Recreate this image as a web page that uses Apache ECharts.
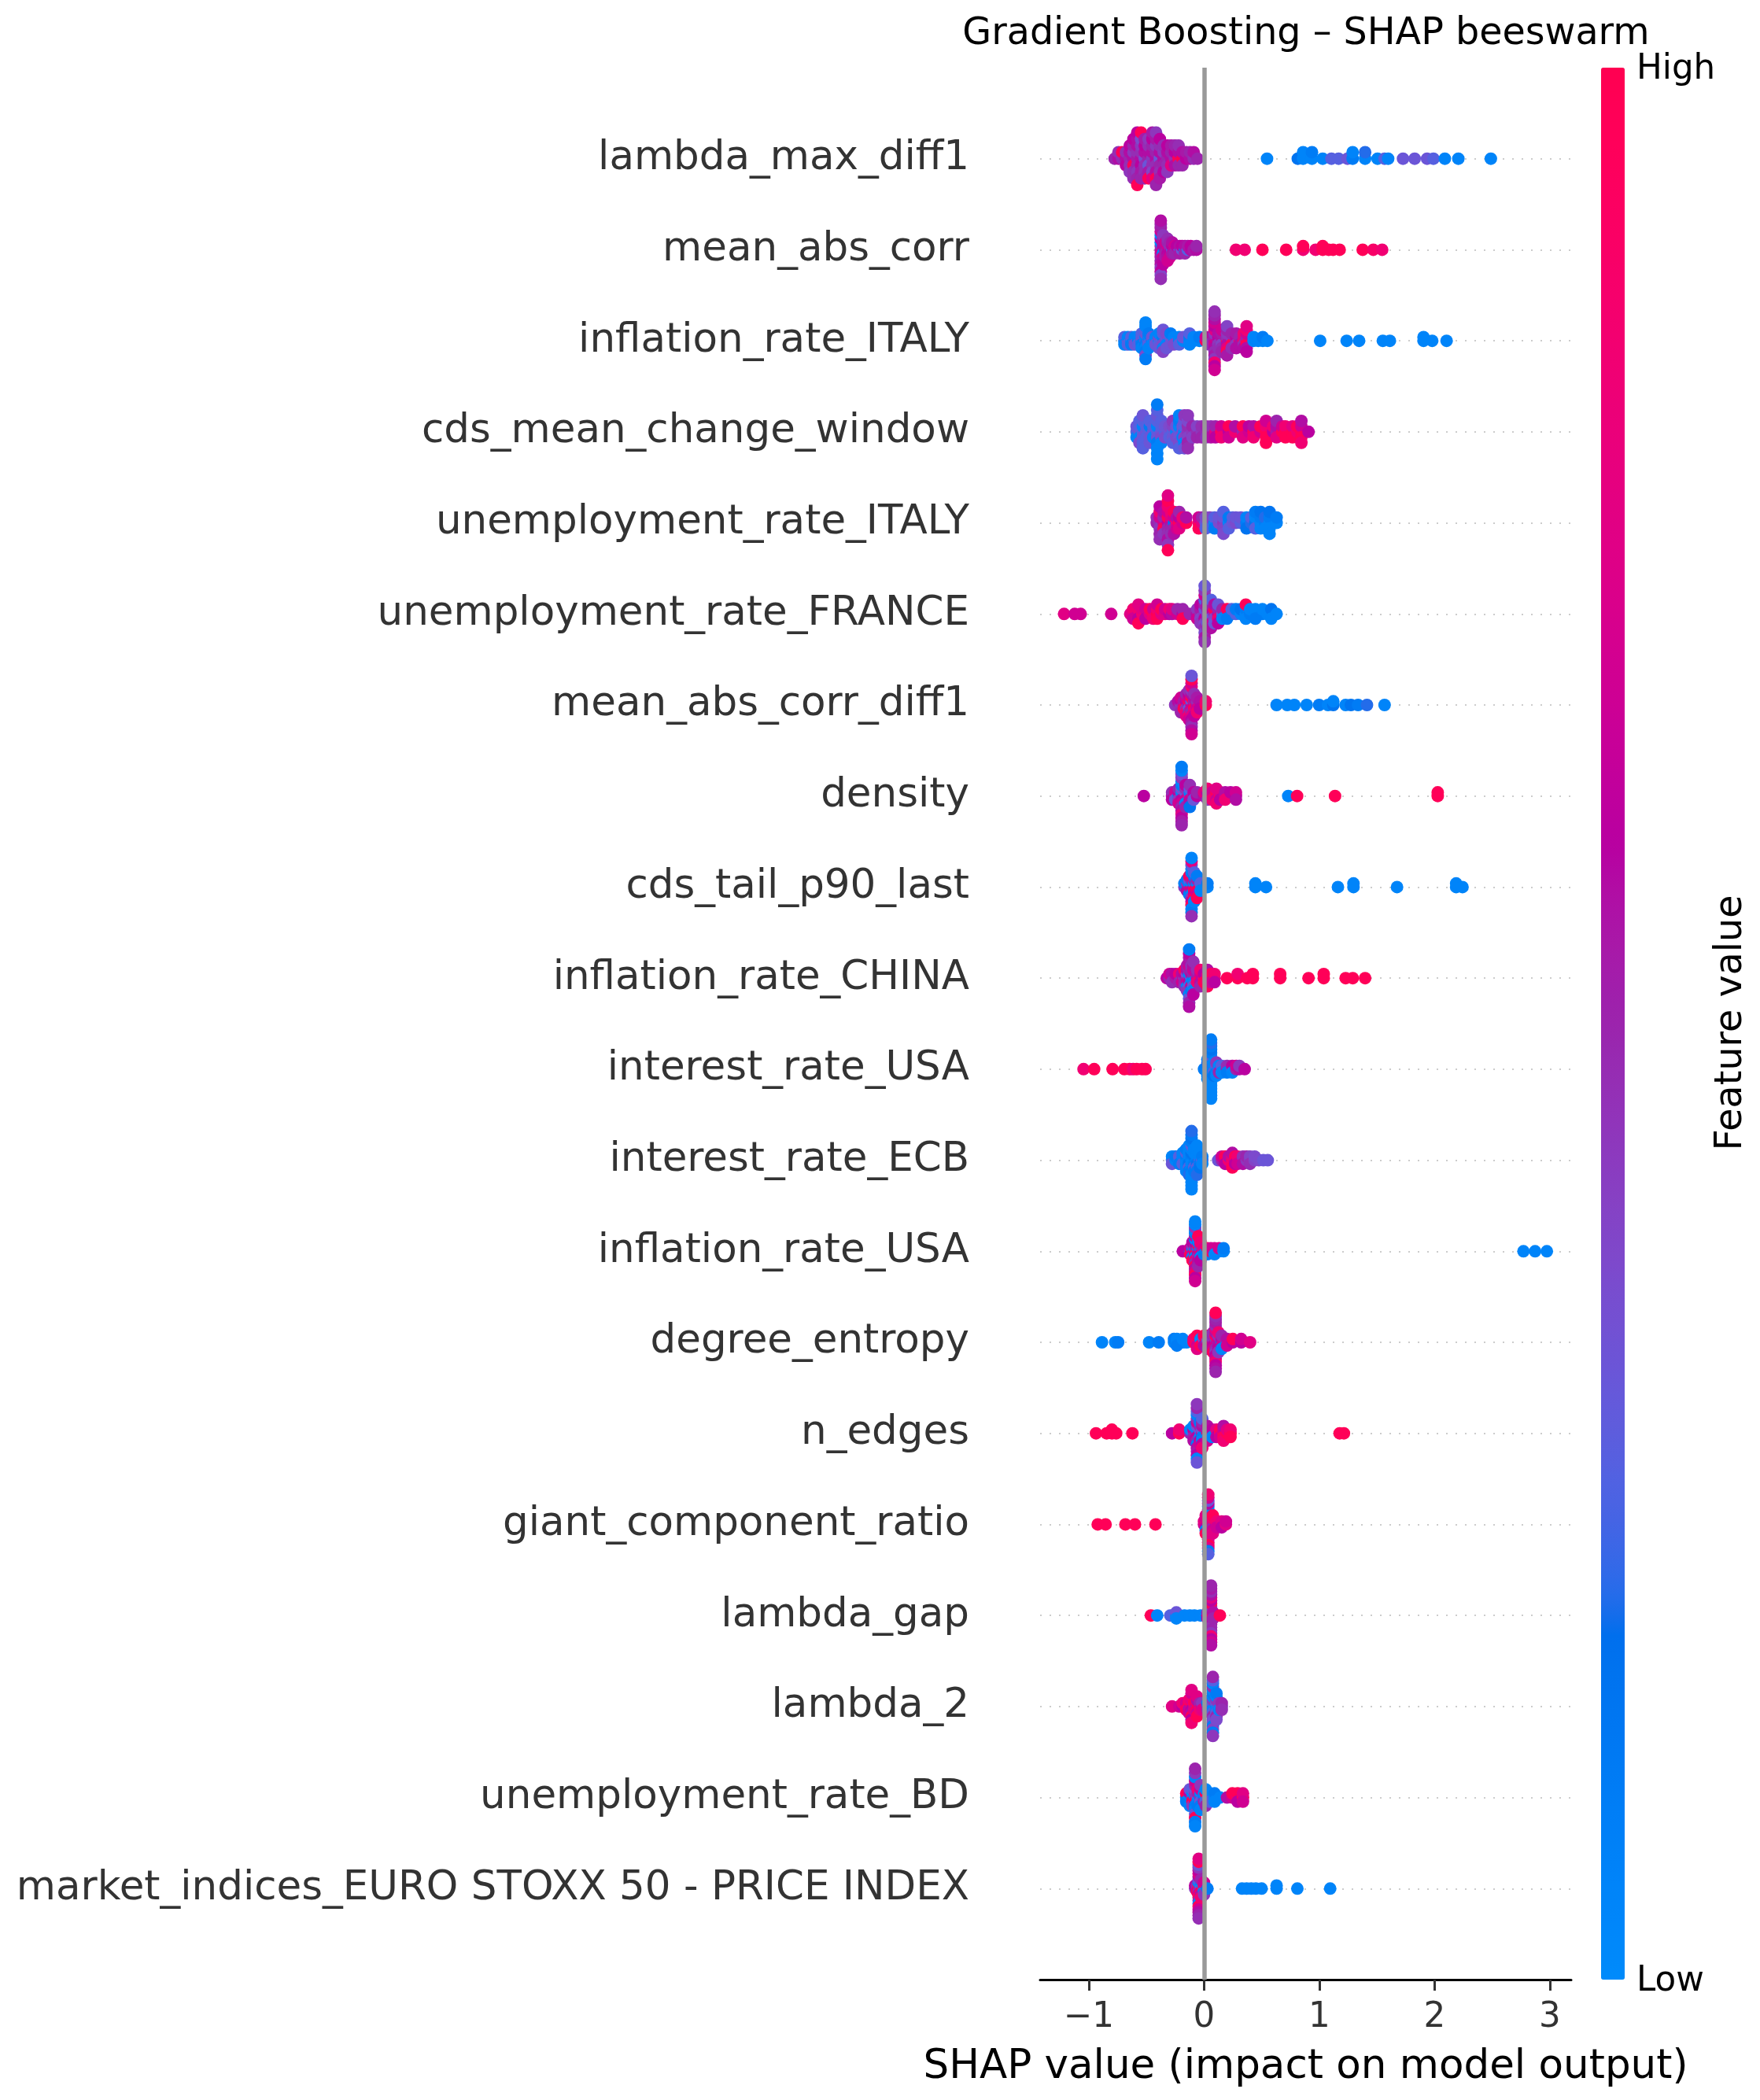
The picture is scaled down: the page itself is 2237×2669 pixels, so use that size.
<!DOCTYPE html>
<html><head><meta charset="utf-8">
<script src="https://cdn.jsdelivr.net/npm/echarts@6/dist/echarts.min.js"></script>
<style>html,body{margin:0;padding:0;background:#fff}#c{width:2237px;height:2669px}</style>
</head><body><div id="c"></div>
<script>
// Feature names, top to bottom
const features = ['lambda_max_diff1','mean_abs_corr','inflation_rate_ITALY','cds_mean_change_window','unemployment_rate_ITALY','unemployment_rate_FRANCE','mean_abs_corr_diff1','density','cds_tail_p90_last','inflation_rate_CHINA','interest_rate_USA','interest_rate_ECB','inflation_rate_USA','degree_entropy','n_edges','giant_component_ratio','lambda_gap','lambda_2','unemployment_rate_BD','market_indices_EURO STOXX 50 - PRICE INDEX'];
const xTicks = [-1, 0, 1, 2, 3];
const colorbarLabels = ['High', 'Low'];

// Each entry: [SHAP value, [feature values (0 = low, 1 = high) of the points stacked at that value]]
const lambda_max_diff1 = [[-0.775,[.5]],[-0.742,[.57,.47]],[-0.71,[.47,.97]],[-0.677,[.57,.47,.6]],[-0.644,[.5,.57,.47,.6,.44]],[-0.612,[.57,.44,.97,.5,.47,.6,.47]],[-0.579,[.54,.47,.5,.57,.44,.57,.5,.6,.97]],[-0.546,[.57,.47,.6,.44,.54,.37,.5,.97]],[-0.514,[.37,.57,.47,.6,.47,.54,.5]],[-0.481,[.5,.57,.32,.47,.54,.44,.97]],[-0.448,[.44,.57,.47,.5,.4,.6,.76,.54]],[-0.416,[.57,.5,.47,.44,.57,.54,.97,.44,.5]],[-0.383,[.32,.57,.5,.47,.47,.6,.54]],[-0.35,[.57,.44,.5,.47,.6]],[-0.318,[.5,.57,.47,.6,.44]],[-0.285,[.57,.5,.76,.54]],[-0.252,[.47,.6,.57,.5]],[-0.22,[.97,.57,.5,.47]],[-0.187,[1,.57,.5]],[-0.154,[.6,.54]],[-0.121,[.57,.5]],[-0.089,[.47,.57]],[-0.056,[.5]],
 [0.547,[.05]],[0.814,[.15]],[0.86,[.05,.05]],[0.937,[.05,.1]],[1.03,[.05]],[1.106,[.27]],[1.168,[.27]],[1.245,[.32]],[1.29,[.1,.05]],[1.398,[.05,.2]],[1.506,[.05]],[1.567,[.27]],[1.598,[.05]],[1.727,[.32]],[1.828,[.32]],[1.936,[.32]],[1.991,[.27]],[2.09,[.05]],[2.207,[.05]],[2.489,[.05]]];
const mean_abs_corr = [[-0.375,[.57,.47,.68,.05,.54,.6,.5,.05,.57,.68,.44,.54,.6,.5,.4,.57,.47]],[-0.355,[.5,.6,.05,.57,.68,.54,.57,.44,.6]],[-0.335,[.6,.57,.5,.68,.54]],[-0.315,[.54,.68,.6,.5,.57,.47,.68]],[-0.295,[.57,.47,.6,.5,.68]],[-0.275,[.27,.6,.54,.57]],[-0.255,[.57,.68,.5]],[-0.235,[.5,.6]],[-0.21,[.27,.57,.54]],[-0.19,[.32,.6]],[-0.165,[.05,.57,.5]],[-0.14,[.27,.54]],[-0.115,[.57,.6]],[-0.09,[.54]],[-0.065,[.57,.5]],
 [0.277,[.85]],[0.353,[.85]],[0.507,[.97]],[0.713,[.97]],[0.86,[.85,.97]],[0.968,[.85]],[1.03,[.97,.97]],[1.082,[.97]],[1.12,[.97]],[1.177,[.97]],[1.377,[.97]],[1.469,[.9]],[1.546,[.85]]];
const inflation_rate_ITALY = [[-0.69,[.1,.27,.05]],[-0.66,[.32,.05,.27]],[-0.63,[.05,.27,.1]],[-0.6,[.27,.05,.32]],[-0.57,[.1,.05,.27]],[-0.54,[.05,.32,.1,.27,.05]],[-0.507,[.27,.05,.1,.32,.05,.27,.1,.05,.37,.05,.1]],[-0.48,[.32,.05,.27,.1,.05]],[-0.45,[.1,.32,.05]],[-0.42,[.27,.05,.32]],[-0.39,[.05,.37,.27,.05,.32]],[-0.355,[.32,.1,.37,.27,.05,.32,.4]],[-0.325,[.27,.32,.05,.37,.32]],[-0.29,[.05,.27,.32,.1]],[-0.26,[.32,.05,.37]],[-0.215,[.1,.05,.27]],[-0.18,[.05,.32]],[-0.125,[.05,.1,.05,.27]],[-0.09,[.05,.05]],[-0.04,[.05,.1]],
 [0.015,[.97,.68]],[0.045,[.97,.57,.47]],[0.092,[.6,.5,.68,.44,.57,.76,.47,.6,.54,.68,.44,.57,.85,.5,.6,.47,.68]],[0.125,[.5,.6,.44,.57,.47]],[0.155,[.44,.57,.4,.54,.47,.68,.5]],[0.2,[.97,.47,.57,.44,.76,.5,.97,.4,.54]],[0.24,[.57,.44,.97,.5,.47]],[0.28,[.5,.6,.44,.54,.57]],[0.31,[.85,.5,.57]],[0.345,[.97,.76,.47,.85,.57]],[0.37,[.97,.5,.97,.68,.57,.85,.6,.76]],[0.43,[.05,.05]],[0.47,[.05]],[0.51,[.05,.1]],[0.55,[.05]],
 [1.008,[.05]],[1.238,[.05]],[1.346,[.05]],[1.552,[.05]],[1.613,[.05]],[1.905,[.05,.05]],[1.98,[.05]],[2.105,[.05]]];
const cds_mean_change_window = [[-0.585,[.27,.32,.05]],[-0.56,[.32,.27,.05,.27,.37]],[-0.53,[.27,.05,.32,.27,.27,.32,.27]],[-0.5,[.32,.27,.27]],[-0.47,[.27,.1,.32,.27,.32]],[-0.44,[.32,.27,.05]],[-0.406,[.27,.05,.32,.27,.1,.32,.05,.27,.05,.1,.05]],[-0.37,[.32,.27,.37,.27,.05]],[-0.338,[.27,.32,.37]],[-0.3,[.32,.37,.27]],[-0.27,[.27,.4,.32,.44,.27]],[-0.24,[.05,.32,.37]],[-0.215,[.27,.05,.32,.1,.37,.05,.27]],[-0.185,[.37,.32,.05]],[-0.17,[.05,.27,.4,.32,.05,.44,.32]],[-0.14,[.44,.47,.4,.37,.5,.44,.47]],[-0.1,[.44,.5,.4]],[-0.06,[.47,.4,.5]],[-0.02,[.44,.47,.5]],
 [0.02,[.47,.5,.44]],[0.06,[.54,.47,.57]],[0.1,[.76,.5,.6]],[0.15,[.97,.68,.85]],[0.215,[.6,.97,.68]],[0.27,[.85,.57]],[0.338,[.5,.97,.76]],[0.39,[.68,.6]],[0.43,[.97,.57,.85]],[0.49,[.68,.97]],[0.538,[.97,.85,.97,.68,.97]],[0.6,[.6,.85]],[0.63,[.54,.57,.76,.5]],[0.68,[.97,.68]],[0.707,[.97,.85,.97]],[0.768,[.97,.76,.97]],[0.81,[.85,.97]],[0.845,[.97,.68,.97,.57,.85]],[0.907,[.6]]];
const unemployment_rate_ITALY = [[-0.41,[.5,.47]],[-0.384,[.47,.68,.44,.85,.5,.6,.47]],[-0.35,[.68,.5,.97,.57,.44]],[-0.313,[.6,.97,.5,.68,.47,.85,.57,.97,.44,.76,.97]],[-0.285,[.57,.76,.5,.85,.47]],[-0.26,[.15,.68,.5,.97,.57]],[-0.235,[.85,.57,.68]],[-0.215,[.97,.6,.76,.5]],[-0.185,[.68,.85]],[-0.154,[.97,.57]],[-0.046,[.85,.68,.97]],[-0.015,[.76,.5]],
 [0.015,[.32,.37,.27]],[0.05,[.27,.4]],[0.092,[.05,.27,.1]],[0.13,[.37,.32]],[0.169,[.44,.32,.4,.27,.37]],[0.215,[.05,.1,.27]],[0.25,[.32,.27]],[0.277,[.37,.32]],[0.32,[.27,.32]],[0.369,[.1,.05,.15]],[0.41,[.2,.27]],[0.446,[.15,.05,.27,.1]],[0.492,[.05,.1,.05,.15]],[0.53,[.1,.2,.05]],[0.569,[.05,.1,.05,.15,.05]],[0.63,[.05,.1]]];
const unemployment_rate_FRANCE = [[-1.214,[.76]],[-1.122,[.68]],[-1.07,[.68]],[-0.805,[.68]],[-0.64,[.76]],[-0.615,[.76,.85,.68]],[-0.569,[.68,.85,.6,.76,.97]],[-0.535,[.85,.76]],[-0.507,[.85,.68,.6]],[-0.47,[.76,.97]],[-0.44,[.97,.68,.85]],[-0.406,[1,.85,.97,.68]],[-0.37,[.76,.97]],[-0.338,[.76,.68]],[-0.3,[.6,.85]],[-0.277,[.57,.76]],[-0.23,[.68,.5]],[-0.184,[.6,.5,.97]],[-0.123,[.5]],[-0.06,[.57,.44,.68]],[-0.03,[.47,.54,.4,.6,.44]],
 [0.006,[.44,.32,.6,.5,.4,.27,.47,.68,.37,.44,.54,.32,.47]],[0.03,[.4,.5,.44,.57,.32,.54,.47]],[0.061,[.44,.6,.32,.5,.68,.27,.57]],[0.09,[.5,.97,.4,.57,.32]],[0.123,[.57,.5,.85,.32,.6]],[0.16,[.27,.5,.05]],[0.2,[.05,.97,.1]],[0.24,[.1,.27]],[0.277,[.27,.1]],[0.32,[.05,.15]],[0.363,[.05,.1,.05,.97]],[0.4,[.1,.05]],[0.446,[.05,.05,.1]],[0.507,[.1,.05]],[0.55,[.05]],[0.584,[.05,.15,.05]],[0.63,[.05]]];
const mean_abs_corr_diff1 = [[-0.25,[.44]],[-0.225,[.47,.57]],[-0.2,[.44,.6,.47,.68,.5]],[-0.175,[.68,.54,.97]],[-0.154,[.97,.6,.47,.68,.85,.5,.76]],[-0.13,[.57,.97,.32,.68,.5,.6,.85,.47,.68]],[-0.108,[.6,.32,.68,.97,.5,.57,.76,.44,.6,.85,.54,.68,.47,.97,.57,.32,.68]],[-0.085,[.68,.5,.97,.57,.76,.47,.6]],[-0.06,[.57,.47,.68,.54,.85]],[-0.035,[.76,.57,.6]],[0.015,[.97,.85]],
 [0.63,[.05]],[0.722,[.05]],[0.784,[.05]],[0.891,[.05]],[0.999,[.1]],[1.076,[.05]],[1.122,[.15,.05]],[1.229,[.05]],[1.275,[.15]],[1.337,[.1]],[1.414,[.2]],[1.567,[.05]]];
const density = [[-0.522,[.6]],[-0.277,[.57,.47,.6]],[-0.25,[.5,.68,.32]],[-0.22,[.05,.6,.44,.5,.68]],[-0.194,[.47,.05,.6,.32,.68,.1,.5,.05,.57,.44,.76,.37,.6,.05,.54,.1,.5]],[-0.16,[.57,.32,.68,.47,.05,.6,.5]],[-0.123,[.44,.05,.68,.27,.57,.47,.15]],[-0.09,[.5,.6,.32]],[-0.06,[.6,.5]],
 [0,[.57,.76]],[0.03,[.76,.57,.44,.85]],[0.07,[.97,.68,.85]],[0.108,[.85,.97,.68,.76,.85]],[0.14,[.97,.76,.6]],[0.184,[.68,.57,.85]],[0.23,[.85,.6]],[0.277,[.6,.68,.57]],[0.731,[.05]],[0.808,[.97]],[1.137,[.97]],[2.028,[.97,.97]]];
const cds_tail_p90_last = [[-0.17,[.44,.1]],[-0.148,[.05,.44,.57,.1]],[-0.128,[.5,.05,.68,.32,.1,.97]],[-0.108,[.97,.05,.68,.5,.05,.85,.44,.1,.6,.05,.97,.27,.05,.76,.1,.05,.47]],[-0.085,[.85,.05,.97,.5,.68,.1,.97,.27,.05]],[-0.06,[.85,.05,.97,.5,.68,.1,.97]],[-0.03,[.97,.27,.05]],[0.03,[.05,.1]],
 [0.446,[.05,.05]],[0.538,[.05]],[1.162,[.05]],[1.297,[.05,.05]],[1.675,[.05]],[2.188,[.05,.05]],[2.243,[.05]]];
const inflation_rate_CHINA = [[-0.323,[.6]],[-0.3,[.5,.68]],[-0.277,[.68,.57,.47]],[-0.245,[.54,.6]],[-0.215,[.6,.85,.5]],[-0.19,[.47,.57,.68]],[-0.169,[.44,.6,.5,.97,.47]],[-0.148,[.5,.32,.68,.57,.05,.54,.44]],[-0.129,[.47,.05,.6,.5,.27,.68,.44,.57,.05,.54,.32,.6,.5,.1,.57]],[-0.11,[.27,.57,.05,.5,.68,.47,.1]],[-0.092,[.1,.5,.05,.68,.32,.57,.05,.47,.6]],[-0.06,[.68,.54,.85,.47]],[-0.03,[.97,.68,.57,.85,.5]],
 [0,[.85,.6,.97]],[0.03,[.97,.76,.85,.57,.97]],[0.06,[.85,.97,.68]],[0.092,[.76,.85,.6]],[0.2,[.97]],[0.292,[.97,.85]],[0.375,[.97]],[0.424,[.97,.97]],[0.661,[.97,.97]],[0.907,[.97]],[1.039,[.97,.97]],[1.229,[.97]],[1.291,[.97]],[1.398,[.97]]];
const interest_rate_USA = [[-1.045,[.85]],[-0.953,[.97]],[-0.793,[.97]],[-0.691,[.97]],[-0.645,[.97]],[-0.615,[.85]],[-0.584,[.97]],[-0.538,[.97]],[-0.507,[.97]],
 [0,[.1]],[0.03,[.05,.1,.05,.2,.05,.1,.05]],[0.061,[.05,.1,.05,.2,.05,.05,.1,.27,.05,.1,.05,.15,.05,.1,.05,.2,.05,.1,.05]],[0.085,[.1,.05,.27,.05,.15]],[0.108,[.05,.27,.1,.44,.05]],[0.13,[.32,.05,.5]],[0.154,[.57,.27,.05]],[0.2,[.76,.47,.1]],[0.246,[.32,.6,.05]],[0.28,[.5,.68]],[0.307,[.57,.44]],[0.353,[.6]]];
const interest_rate_ECB = [[-0.277,[.27,.05,.32]],[-0.246,[.05,.1]],[-0.215,[.05,.27,.1]],[-0.185,[.1,.05,.27,.05]],[-0.154,[.05,.1,.05,.27,.05,.1,.05]],[-0.13,[.1,.05,.15,.05,.27,.05,.1,.05,.2]],[-0.108,[.05,.1,.05,.15,.05,.05,.1,.27,.05,.1,.05,.15,.05,.1,.05,.2,.05]],[-0.085,[.05,.15,.1,.05,.27,.05,.1]],[-0.06,[.1,.05,.15,.05,.27,.05,.1,.05,.2]],[-0.035,[.27,.05,.1,.05,.15]],[-0.015,[.27,.1,.05]],
 [0.123,[.32]],[0.155,[.5,.68]],[0.184,[.68,.97,.6]],[0.215,[.85,.57]],[0.246,[.97,.76,.85,.57,.97]],[0.27,[.68,.97,.6]],[0.292,[.6,.85,.68]],[0.338,[.68,.47,.57]],[0.37,[.44,.5]],[0.4,[.44,.4,.47]],[0.44,[.4,.37]],[0.476,[.37]],[0.515,[.32]],[0.553,[.32]]];
const inflation_rate_USA = [[-0.184,[.6]],[-0.12,[.05,.68,.97]],[-0.1,[.97,.05,.68,.44,.05,.6,.97]],[-0.077,[.68,.05,.97,.5,.05,.6,.85,.05,.47,.68,.97,.1,.57,.05,.76,.44,.97,.05,.6,.05,.68]],[-0.05,[.85,.05,.6,.97,.47,.1,.68,.05,.57,.97,.5]],[-0.03,[.97,.05,.68,.5,.05,.85,.6]],
 [0,[.05,.76,.1]],[0.03,[.05,.97,.1]],[0.06,[.97,.68]],[0.092,[.97,.68,.05]],[0.13,[.05,.68]],[0.17,[.05,.1]],[2.772,[.05]],[2.873,[.05]],[2.975,[.05]]];
const degree_entropy = [[-0.885,[.05]],[-0.77,[.05]],[-0.745,[.1]],[-0.476,[.05]],[-0.393,[.1]],[-0.26,[.05,.1]],[-0.235,[.05,.05,.1]],[-0.184,[.1,.05]],[-0.15,[.05]],[-0.09,[.97,.85]],[-0.06,[.97,.85,.68,.97,.76]],[-0.03,[.68,.05,.97]],
 [0,[.85,.32,.57,.97]],[0.03,[.44,.32,.68,.97,.5]],[0.06,[.6,.5,.97,.44,.68]],[0.08,[.57,.44,.6,.5,.68,.47,.97]],[0.101,[.6,.47,.68,.97,.5,.57,.44,.76,.6,.47,.68,.54,.85,.5,.6,.47,.57,.97,.5]],[0.125,[.5,.68,.57,.47,.6,.85,.44]],[0.154,[.1,.6,.68,.5,.05]],[0.2,[.05,.57,.68]],[0.25,[.6,.97]],[0.323,[.6,.68]],[0.4,[.76]]];
const n_edges = [[-0.937,[.97]],[-0.845,[.97]],[-0.799,[.97,.97]],[-0.762,[.97]],[-0.621,[.97]],[-0.277,[.6]],[-0.215,[.97,.85]],[-0.12,[.5,.05]],[-0.09,[.32,.6,.5,.05,.57]],[-0.061,[.5,.05,.6,.32,.5,.68,.1,.47,.57,.05,.54,.27,.6,.5,.05,.44,.32]],[-0.035,[.57,.32,.05,.5,.6,.1,.68]],[-0.015,[.68,.32,.1,.57,.05,.5,.6,.27,.85]],
 [0.03,[.97,.5,.05,.57,.68]],[0.07,[.85,.6,.05]],[0.108,[.05,.76,.6]],[0.14,[.85,.97,.68]],[0.17,[.97,.68,.97,.57,.85]],[0.2,[.97,.76]],[0.23,[.97,.85,.97]],[1.177,[.97]],[1.214,[.97]]];
const giant_component_ratio = [[-0.922,[.97]],[-0.854,[.97]],[-0.682,[.97]],[-0.599,[.97]],[-0.421,[.97]],
 [0,[.68,.76]],[0.015,[.76,.85,.6,.68,.05,.76,.97]],[0.037,[.76,.97,.05,.68,.6,.85,.32,.76,.97,.6,.68,.05,.76,.6,.97,.32,.76,.68,.1,.85,.27]],[0.055,[.68,.76,.85,.6,.97]],[0.077,[.68,.76,.5,.85,.68,.97,.76]],[0.11,[.6,.85,.68]],[0.154,[.68,.76,.6]],[0.19,[.76,.68]]];
const lambda_gap = [[-0.461,[.97]],[-0.406,[.05]],[-0.292,[.27]],[-0.24,[.05,.32,.05]],[-0.169,[.05]],[-0.123,[.05]],[-0.083,[.05]],[-0.03,[.05]],
 [0.03,[.97,.5,.6]],[0.045,[.47,.68,.57,.97,.5]],[0.061,[.47,.6,.85,.5,.68,.44,.57,.97,.47,.6,.5,.76,.44,.57,.85,.47,.6,.54,.68,.5,.57]],[0.08,[.85,.57,.5]],[0.138,[.97]]];
const lambda_2 = [[-0.277,[.76]],[-0.215,[.68]],[-0.185,[.6,.85]],[-0.154,[.85,.68,.97]],[-0.13,[.76,.97,.57,.85,.68]],[-0.108,[.68,.97,.6,.76,.57,.85,.97,.68,.6,.76,.85]],[-0.085,[.57,.97,.76]],[-0.06,[.5,.85,.97,.57,.68,.76,.97]],[-0.035,[.68,.5,.85]],[-0.015,[.57,.44,.76]],
 [0.03,[.44,.1,.5]],[0.055,[.32,.05,.44,.1,.5]],[0.077,[.1,.32,.05,.44,.27,.05,.5,.1,.37,.05,.32,.47,.1,.05,.4,.27,.1,.5,.44]],[0.108,[.1,.32,.05,.44,.27,.05,.5,.1,.37]],[0.13,[.32,.44,.05]],[0.154,[.4,.5,.47]]];
const unemployment_rate_BD = [[-0.154,[.05,.97,.1]],[-0.123,[.05,.6,.1,.32,.05]],[-0.1,[.5,.05,.97,.27,.44]],[-0.077,[.05,.44,.97,.32,.1,.5,.05,.68,.32,.05,.97,.44,.1,.5,.05]],[-0.055,[.32,.5,.05,.85,.1]],[-0.03,[.5,.05,.32,.68,.1,.44,.05]],
 [0,[.1,.05,.5]],[0.015,[.05,.97,.27,.05,.5]],[0.05,[.1,.05,.27]],[0.092,[.05,.1,.05]],[0.138,[.05]],[0.2,[.57]],[0.246,[.68,.97]],[0.292,[.85,.97,.6]],[0.338,[.97,.76,.68]]];
const market_indices_EURO_STOXX_50 = [[-0.077,[.44,.6]],[-0.06,[.68,.47,.97]],[-0.046,[.6,.97,.47,.05,.68,.32,.97,.57,.5,.76,.05,.6,.97,.44,.68,.32,.57,.97,.5,.76,.47]],[-0.025,[.68,.32,.97,.05,.57,.5,.85]],[0,[.32,.97,.05,.68,.44]],[0.03,[.1]],
 [0.33,[.05]],[0.37,[.05]],[0.41,[.05]],[0.45,[.05]],[0.5,[.05]],[0.63,[.05,.05]],[0.81,[.05]],[1.095,[.05]]];

const rows = [lambda_max_diff1, mean_abs_corr, inflation_rate_ITALY, cds_mean_change_window, unemployment_rate_ITALY, unemployment_rate_FRANCE, mean_abs_corr_diff1, density, cds_tail_p90_last, inflation_rate_CHINA, interest_rate_USA, interest_rate_ECB, inflation_rate_USA, degree_entropy, n_edges, giant_component_ratio, lambda_gap, lambda_2, unemployment_rate_BD, market_indices_EURO_STOXX_50];

// SHAP red_blue colormap (interpolated in CIE LCH space)
function lch2rgb(L, C, H) {
  const a = C * Math.cos(H), b = C * Math.sin(H);
  const fy = (L + 16) / 116, fx = a / 500 + fy, fz = fy - b / 200;
  const f = t => t > 0.2068966 ? t * t * t : (t - 16 / 116) / 7.787;
  const X = 0.95047 * f(fx), Y = f(fy), Z = 1.08883 * f(fz);
  const lin = [3.24048134 * X - 1.53715152 * Y - 0.49853633 * Z,
               -0.96925495 * X + 1.87599 * Y + 0.04155593 * Z,
               0.05564664 * X - 0.20404134 * Y + 1.05731107 * Z];
  return lin.map(u => {
    const g = u > 0.0031308 ? 1.055 * Math.pow(u, 1 / 2.4) - 0.055 : 12.92 * u;
    return Math.round(255 * Math.min(1, Math.max(0, g)));
  });
}
const cmap = [];
for (let i = 0; i < 100; i++) {
  const L = i < 50 ? 54 - 14 * i / 49 : 40 + 14 * (i - 50) / 49;
  const C = 70 + 20 * i / 99;
  const H = 4.6588 + (0.35470565 + 2 * Math.PI - 4.6588) * i / 99;
  const [r, g, b] = lch2rgb(L, C, H);
  cmap.push('rgb(' + r + ',' + g + ',' + b + ')');
}

// beeswarm stacking: points sharing a value alternate above/below the row line
function layoutRow(groups, r) {
  let M = 0;
  const pts = [];
  groups.forEach(([x, cs]) => {
    cs.forEach((c, k) => {
      const ys = Math.ceil(k / 2) * (k % 2 ? 1 : -1);
      if (ys > M) M = ys;
      pts.push([x, ys, c]);
    });
  });
  const s = 0.9 * 0.4 / (M + 1);
  const pos = features.length - 1 - r;
  return pts.map(([x, ys, c]) => [x, pos + ys * s, c]);
}

const FONT = 'DejaVu Sans';
const series = rows.map((g, r) => ({
  type: 'scatter', name: features[r], data: layoutRow(g, r), symbol: 'circle', symbolSize: 16,
  itemStyle: { opacity: 1, borderWidth: 0 }, emphasis: { disabled: true }, silent: true, z: 2
}));
series.push({
  type: 'line', data: [], z: 5, silent: true,
  markLine: { symbol: ['none', 'none'], silent: true, animation: false, label: { show: false },
    lineStyle: { color: '#999999', width: 5.5, type: 'solid' }, data: [{ xAxis: 0 }] }
});

const chart = echarts.init(document.getElementById('c'), null, { renderer: 'canvas' });
chart.setOption({
  animation: false,
  backgroundColor: '#ffffff',
  grid: { left: 1322, right: 240, top: 86, height: 2430, containLabel: false },
  xAxis: {
    type: 'value', min: -1.422, max: 3.186,
    name: 'SHAP value (impact on model output)', nameLocation: 'middle', nameGap: 86,
    nameTextStyle: { fontSize: 51.5, color: '#000', fontFamily: FONT },
    axisLine: { show: true, onZero: false, lineStyle: { color: '#000', width: 3 } },
    axisTick: { show: true, customValues: xTicks, length: 14, lineStyle: { color: '#333333', width: 3 } },
    axisLabel: { customValues: xTicks, margin: 27, fontSize: 43.6, color: '#333333', fontFamily: FONT,
      formatter: v => v < 0 ? '\u2212' + Math.abs(v) : String(v) },
    splitLine: { show: false }
  },
  yAxis: {
    type: 'value', min: -1, max: features.length, interval: 1,
    axisLine: { show: false }, axisTick: { show: false },
    axisLabel: { margin: 90, fontSize: 51.5, color: '#333333', fontFamily: FONT,
      formatter: v => (v >= 0 && v < features.length) ? features[features.length - 1 - v] : '' },
    splitLine: { show: true, showMinLine: false, showMaxLine: false,
      lineStyle: { color: '#cccccc', width: 2, type: [2, 10] } }
  },
  visualMap: {
    type: 'continuous', min: 0, max: 1, dimension: 2, seriesIndex: rows.map((_, i) => i),
    inRange: { color: cmap }, orient: 'vertical', left: 2035, top: 86, itemWidth: 30, itemHeight: 2430,
    padding: 0, calculable: false, hoverLink: false, text: null, showLabel: false
  },
  graphic: [
    { type: 'text', x: 1660, y: 44, silent: true,
      style: { text: 'Gradient Boosting \u2013 SHAP beeswarm', fontSize: 47.6, fontFamily: FONT, fill: '#000', align: 'center', verticalAlign: 'middle' } },
    { type: 'text', x: 2080, y: 89, silent: true,
      style: { text: colorbarLabels[0], fontSize: 43.6, fontFamily: FONT, fill: '#000', align: 'left', verticalAlign: 'middle' } },
    { type: 'text', x: 2080, y: 2519, silent: true,
      style: { text: colorbarLabels[1], fontSize: 43.6, fontFamily: FONT, fill: '#000', align: 'left', verticalAlign: 'middle' } },
    { type: 'text', x: 2201, y: 1300, rotation: Math.PI / 2, silent: true,
      style: { text: 'Feature value', fontSize: 47.6, fontFamily: FONT, fill: '#000', align: 'center', verticalAlign: 'middle' } }
  ],
  series: series
});
</script>
</body></html>
